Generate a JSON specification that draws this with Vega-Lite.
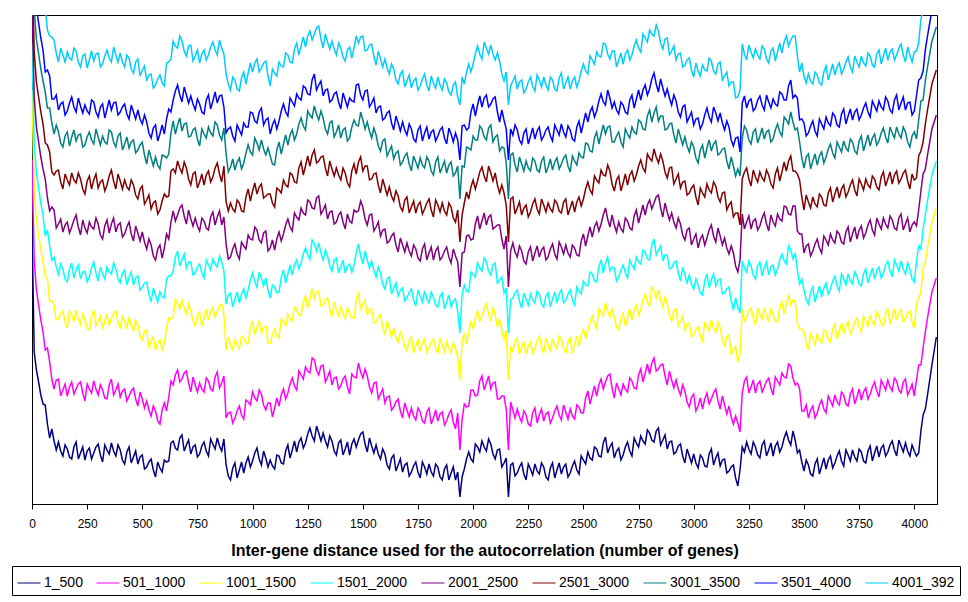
{
"$schema": "https://vega.github.io/schema/vega-lite/v6.json",
"width": 905, "height": 489,
"autosize": {"type": "none"},
"padding": {"left": 32, "top": 15, "right": 31, "bottom": 98},
"background": "white",
"config": {"view": {"stroke": "black", "strokeWidth": 1}, "font": "Liberation Sans"},
"data": {"values": [
{"x":0,"a":227,"b":160,"c":90,"d":43,"e":-3,"f":-48,"g":-91,"h":-122,"i":-172},
{"x":20,"a":370,"b":290,"c":220,"d":173,"e":127,"f":82,"g":39,"h":8,"i":-42},
{"x":40,"a":395,"b":320,"c":250,"d":203,"e":157,"f":112,"g":69,"h":38,"i":-12},
{"x":60,"a":405,"b":350,"c":276,"d":236,"e":179,"f":143,"g":92,"h":72,"i":8},
{"x":80,"a":438,"b":362,"c":301,"d":246,"e":211,"f":152,"g":108,"h":76,"i":36},
{"x":100,"a":441,"b":389,"c":305,"d":257,"e":210,"f":175,"g":134,"h":99,"i":40},
{"x":120,"a":442,"b":379,"c":319,"d":274,"e":224,"f":170,"g":132,"h":110,"i":62},
{"x":140,"a":456,"b":390,"c":311,"d":269,"e":232,"f":189,"g":147,"h":102,"i":55},
{"x":160,"a":449,"b":396,"c":328,"d":282,"e":222,"f":180,"g":132,"h":111,"i":52},
{"x":180,"a":459,"b":382,"c":315,"d":263,"e":227,"f":173,"g":137,"h":97,"i":60},
{"x":200,"a":442,"b":389,"c":310,"d":270,"e":215,"f":183,"g":141,"h":112,"i":51},
{"x":220,"a":453,"b":382,"c":325,"d":279,"e":235,"f":179,"g":134,"h":106,"i":67},
{"x":240,"a":460,"b":401,"c":320,"d":271,"e":228,"f":194,"g":145,"h":105,"i":54},
{"x":260,"a":448,"b":389,"c":330,"d":277,"e":222,"f":176,"g":132,"h":114,"i":60},
{"x":280,"a":453,"b":381,"c":310,"d":262,"e":229,"f":180,"g":144,"h":102,"i":61},
{"x":300,"a":444,"b":395,"c":321,"d":281,"e":224,"f":188,"g":137,"h":117,"i":53},
{"x":320,"a":462,"b":390,"c":329,"d":274,"e":239,"f":180,"g":136,"h":104,"i":64},
{"x":340,"a":450,"b":399,"c":315,"d":267,"e":220,"f":185,"g":144,"h":109,"i":50},
{"x":360,"a":443,"b":379,"c":319,"d":274,"e":224,"f":170,"g":132,"h":110,"i":62},
{"x":380,"a":456,"b":390,"c":311,"d":269,"e":232,"f":189,"g":147,"h":102,"i":55},
{"x":400,"a":450,"b":397,"c":329,"d":283,"e":223,"f":181,"g":133,"h":112,"i":53},
{"x":420,"a":464,"b":389,"c":322,"d":270,"e":234,"f":180,"g":144,"h":104,"i":67},
{"x":440,"a":447,"b":396,"c":317,"d":277,"e":222,"f":190,"g":148,"h":119,"i":58},
{"x":460,"a":457,"b":388,"c":331,"d":285,"e":241,"f":185,"g":140,"h":112,"i":73},
{"x":480,"a":464,"b":406,"c":325,"d":276,"e":233,"f":199,"g":150,"h":110,"i":59},
{"x":500,"a":455,"b":399,"c":340,"d":287,"e":232,"f":186,"g":142,"h":124,"i":70},
{"x":520,"a":467,"b":401,"c":330,"d":282,"e":249,"f":200,"g":164,"h":122,"i":81},
{"x":540,"a":459,"b":416,"c":342,"d":302,"e":245,"f":209,"g":158,"h":138,"i":74},
{"x":560,"a":477,"b":411,"c":350,"d":295,"e":260,"f":201,"g":157,"h":125,"i":85},
{"x":580,"a":468,"b":424,"c":340,"d":292,"e":245,"f":210,"g":169,"h":134,"i":75},
{"x":600,"a":460,"b":403,"c":343,"d":298,"e":248,"f":194,"g":156,"h":134,"i":86},
{"x":620,"a":461,"b":397,"c":318,"d":276,"e":239,"f":196,"g":154,"h":109,"i":62},
{"x":640,"a":441,"b":385,"c":317,"d":271,"e":211,"f":169,"g":121,"h":100,"i":41},
{"x":660,"a":450,"b":370,"c":303,"d":251,"e":215,"f":161,"g":125,"h":85,"i":48},
{"x":680,"a":435,"b":379,"c":300,"d":260,"e":205,"f":173,"g":131,"h":102,"i":41},
{"x":700,"a":445,"b":371,"c":314,"d":268,"e":224,"f":168,"g":123,"h":95,"i":56},
{"x":720,"a":454,"b":392,"c":311,"d":262,"e":219,"f":185,"g":136,"h":96,"i":45},
{"x":740,"a":445,"b":385,"c":326,"d":273,"e":218,"f":172,"g":128,"h":110,"i":56},
{"x":760,"a":454,"b":383,"c":312,"d":264,"e":231,"f":182,"g":146,"h":104,"i":63},
{"x":780,"a":442,"b":392,"c":318,"d":278,"e":221,"f":185,"g":134,"h":114,"i":50},
{"x":800,"a":456,"b":381,"c":320,"d":265,"e":230,"f":171,"g":127,"h":95,"i":55},
{"x":820,"a":444,"b":391,"c":307,"d":259,"e":212,"f":177,"g":136,"h":101,"i":42},
{"x":840,"a":438,"b":372,"c":312,"d":267,"e":217,"f":163,"g":125,"h":103,"i":55},
{"x":860,"a":451,"b":383,"c":304,"d":262,"e":225,"f":182,"g":140,"h":95,"i":48},
{"x":880,"a":465,"b":418,"c":350,"d":304,"e":244,"f":202,"g":154,"h":133,"i":74},
{"x":900,"a":480,"b":412,"c":345,"d":293,"e":257,"f":203,"g":167,"h":127,"i":90},
{"x":920,"a":463,"b":418,"c":339,"d":299,"e":244,"f":212,"g":170,"h":141,"i":80},
{"x":940,"a":470,"b":406,"c":349,"d":303,"e":259,"f":203,"g":158,"h":130,"i":91},
{"x":960,"a":473,"b":419,"c":338,"d":289,"e":246,"f":212,"g":163,"h":123,"i":72},
{"x":980,"a":457,"b":402,"c":343,"d":290,"e":235,"f":189,"g":145,"h":127,"i":73},
{"x":1000,"a":461,"b":392,"c":321,"d":273,"e":240,"f":191,"g":155,"h":113,"i":72},
{"x":1020,"a":448,"b":401,"c":327,"d":287,"e":230,"f":194,"g":143,"h":123,"i":59},
{"x":1040,"a":465,"b":394,"c":333,"d":278,"e":243,"f":184,"g":140,"h":108,"i":68},
{"x":1060,"a":458,"b":410,"c":326,"d":278,"e":231,"f":196,"g":155,"h":120,"i":61},
{"x":1080,"a":460,"b":403,"c":343,"d":298,"e":248,"f":194,"g":156,"h":134,"i":86},
{"x":1100,"a":469,"b":408,"c":329,"d":287,"e":250,"f":207,"g":165,"h":120,"i":73},
{"x":1120,"a":456,"b":406,"c":338,"d":292,"e":232,"f":190,"g":142,"h":121,"i":62},
{"x":1140,"a":464,"b":389,"c":322,"d":270,"e":234,"f":180,"g":144,"h":104,"i":67},
{"x":1160,"a":445,"b":393,"c":314,"d":274,"e":219,"f":187,"g":145,"h":116,"i":55},
{"x":1180,"a":450,"b":378,"c":321,"d":275,"e":231,"f":175,"g":130,"h":102,"i":63},
{"x":1200,"a":452,"b":390,"c":309,"d":260,"e":217,"f":183,"g":134,"h":94,"i":43},
{"x":1220,"a":438,"b":375,"c":316,"d":263,"e":208,"f":162,"g":118,"h":100,"i":46},
{"x":1240,"a":443,"b":367,"c":296,"d":248,"e":215,"f":166,"g":130,"h":88,"i":47},
{"x":1260,"a":428,"b":373,"c":299,"d":259,"e":202,"f":166,"g":115,"h":95,"i":31},
{"x":1280,"a":441,"b":360,"c":299,"d":244,"e":209,"f":150,"g":106,"h":74,"i":34},
{"x":1300,"a":433,"b":375,"c":291,"d":243,"e":196,"f":161,"g":120,"h":85,"i":26},
{"x":1320,"a":433,"b":365,"c":305,"d":260,"e":210,"f":156,"g":118,"h":96,"i":48},
{"x":1340,"a":447,"b":377,"c":298,"d":256,"e":219,"f":176,"g":134,"h":89,"i":42},
{"x":1360,"a":441,"b":385,"c":317,"d":271,"e":211,"f":169,"g":121,"h":100,"i":41},
{"x":1380,"a":455,"b":377,"c":310,"d":258,"e":222,"f":168,"g":132,"h":92,"i":55},
{"x":1400,"a":440,"b":386,"c":307,"d":267,"e":212,"f":180,"g":138,"h":109,"i":48},
{"x":1420,"a":449,"b":376,"c":319,"d":273,"e":229,"f":173,"g":128,"h":100,"i":61},
{"x":1440,"a":455,"b":394,"c":313,"d":264,"e":221,"f":187,"g":138,"h":98,"i":47},
{"x":1460,"a":439,"b":377,"c":318,"d":265,"e":210,"f":164,"g":120,"h":102,"i":48},
{"x":1480,"a":440,"b":363,"c":292,"d":244,"e":211,"f":162,"g":126,"h":84,"i":43},
{"x":1500,"a":432,"b":378,"c":304,"d":264,"e":207,"f":171,"g":120,"h":100,"i":36},
{"x":1520,"a":452,"b":376,"c":315,"d":260,"e":225,"f":166,"g":122,"h":90,"i":50},
{"x":1540,"a":446,"b":393,"c":309,"d":261,"e":214,"f":179,"g":138,"h":103,"i":44},
{"x":1560,"a":445,"b":382,"c":322,"d":277,"e":227,"f":173,"g":135,"h":113,"i":65},
{"x":1580,"a":459,"b":394,"c":315,"d":273,"e":236,"f":193,"g":151,"h":106,"i":59},
{"x":1600,"a":454,"b":403,"c":335,"d":289,"e":229,"f":187,"g":139,"h":118,"i":59},
{"x":1620,"a":469,"b":396,"c":329,"d":277,"e":241,"f":187,"g":151,"h":111,"i":74},
{"x":1640,"a":455,"b":407,"c":328,"d":288,"e":233,"f":201,"g":159,"h":130,"i":69},
{"x":1660,"a":465,"b":399,"c":342,"d":296,"e":252,"f":196,"g":151,"h":123,"i":84},
{"x":1680,"a":472,"b":418,"c":337,"d":288,"e":245,"f":211,"g":162,"h":122,"i":71},
{"x":1700,"a":463,"b":410,"c":351,"d":298,"e":243,"f":197,"g":153,"h":135,"i":81},
{"x":1720,"a":472,"b":408,"c":337,"d":289,"e":256,"f":207,"g":171,"h":129,"i":88},
{"x":1740,"a":462,"b":420,"c":346,"d":306,"e":249,"f":213,"g":162,"h":142,"i":78},
{"x":1760,"a":478,"b":412,"c":351,"d":296,"e":261,"f":202,"g":158,"h":126,"i":86},
{"x":1780,"a":467,"b":423,"c":339,"d":291,"e":244,"f":209,"g":168,"h":133,"i":74},
{"x":1800,"a":464,"b":408,"c":348,"d":303,"e":253,"f":199,"g":161,"h":139,"i":91},
{"x":1820,"a":476,"b":418,"c":339,"d":297,"e":260,"f":217,"g":175,"h":130,"i":83},
{"x":1840,"a":467,"b":421,"c":353,"d":307,"e":247,"f":205,"g":157,"h":136,"i":77},
{"x":1860,"a":480,"b":412,"c":345,"d":293,"e":257,"f":203,"g":167,"h":127,"i":90},
{"x":1880,"a":465,"b":421,"c":342,"d":302,"e":247,"f":215,"g":173,"h":144,"i":83},
{"x":1900,"a":473,"b":410,"c":353,"d":307,"e":263,"f":207,"g":162,"h":134,"i":95},
{"x":1920,"a":480,"b":429,"c":348,"d":299,"e":256,"f":222,"g":173,"h":133,"i":82},
{"x":1940,"a":497,"b":450,"c":380,"d":333,"e":287,"f":242,"g":199,"h":160,"i":105},
{"x":1960,"a":469,"b":404,"c":333,"d":285,"e":252,"f":203,"g":167,"h":125,"i":84},
{"x":1980,"a":452,"b":406,"c":332,"d":292,"e":235,"f":199,"g":148,"h":128,"i":64},
{"x":2000,"a":462,"b":390,"c":329,"d":274,"e":239,"f":180,"g":136,"h":104,"i":64},
{"x":2020,"a":447,"b":395,"c":311,"d":263,"e":216,"f":181,"g":140,"h":105,"i":46},
{"x":2040,"a":441,"b":376,"c":316,"d":271,"e":221,"f":167,"g":129,"h":107,"i":59},
{"x":2060,"a":451,"b":383,"c":304,"d":262,"e":225,"f":182,"g":140,"h":95,"i":48},
{"x":2080,"a":444,"b":389,"c":321,"d":275,"e":215,"f":173,"g":125,"h":104,"i":45},
{"x":2100,"a":459,"b":382,"c":315,"d":263,"e":227,"f":173,"g":137,"h":97,"i":60},
{"x":2120,"a":449,"b":399,"c":320,"d":280,"e":225,"f":193,"g":151,"h":122,"i":61},
{"x":2140,"a":463,"b":396,"c":339,"d":293,"e":249,"f":193,"g":148,"h":120,"i":81},
{"x":2160,"a":497,"b":450,"c":380,"d":333,"e":287,"f":242,"g":199,"h":160,"i":105},
{"x":2180,"a":463,"b":410,"c":351,"d":298,"e":243,"f":197,"g":153,"h":135,"i":81},
{"x":2200,"a":473,"b":409,"c":338,"d":290,"e":257,"f":208,"g":172,"h":130,"i":89},
{"x":2220,"a":463,"b":422,"c":348,"d":308,"e":251,"f":215,"g":164,"h":144,"i":80},
{"x":2240,"a":480,"b":415,"c":354,"d":299,"e":264,"f":205,"g":161,"h":129,"i":89},
{"x":2260,"a":469,"b":426,"c":342,"d":294,"e":247,"f":212,"g":171,"h":136,"i":77},
{"x":2280,"a":464,"b":408,"c":348,"d":303,"e":253,"f":199,"g":161,"h":139,"i":91},
{"x":2300,"a":474,"b":415,"c":336,"d":294,"e":257,"f":214,"g":172,"h":127,"i":80},
{"x":2320,"a":467,"b":421,"c":353,"d":307,"e":247,"f":205,"g":157,"h":136,"i":77},
{"x":2340,"a":480,"b":412,"c":345,"d":293,"e":257,"f":203,"g":167,"h":127,"i":90},
{"x":2360,"a":463,"b":418,"c":339,"d":299,"e":244,"f":212,"g":170,"h":141,"i":80},
{"x":2380,"a":470,"b":406,"c":349,"d":303,"e":259,"f":203,"g":158,"h":130,"i":91},
{"x":2400,"a":474,"b":420,"c":339,"d":290,"e":247,"f":213,"g":164,"h":124,"i":73},
{"x":2420,"a":464,"b":412,"c":353,"d":300,"e":245,"f":199,"g":155,"h":137,"i":83},
{"x":2440,"a":473,"b":409,"c":338,"d":290,"e":257,"f":208,"g":172,"h":130,"i":89},
{"x":2460,"a":461,"b":419,"c":345,"d":305,"e":248,"f":212,"g":161,"h":141,"i":77},
{"x":2480,"a":474,"b":407,"c":346,"d":291,"e":256,"f":197,"g":153,"h":121,"i":81},
{"x":2500,"a":460,"b":413,"c":329,"d":281,"e":234,"f":199,"g":158,"h":123,"i":64},
{"x":2520,"a":452,"b":391,"c":331,"d":286,"e":236,"f":182,"g":144,"h":122,"i":74},
{"x":2540,"a":460,"b":395,"c":316,"d":274,"e":237,"f":194,"g":152,"h":107,"i":60},
{"x":2560,"a":449,"b":396,"c":328,"d":282,"e":222,"f":180,"g":132,"h":111,"i":52},
{"x":2580,"a":457,"b":379,"c":312,"d":260,"e":224,"f":170,"g":134,"h":94,"i":57},
{"x":2600,"a":437,"b":382,"c":303,"d":263,"e":208,"f":176,"g":134,"h":105,"i":44},
{"x":2620,"a":447,"b":374,"c":317,"d":271,"e":227,"f":171,"g":126,"h":98,"i":59},
{"x":2640,"a":458,"b":398,"c":317,"d":268,"e":225,"f":191,"g":142,"h":102,"i":51},
{"x":2660,"a":448,"b":389,"c":330,"d":277,"e":222,"f":176,"g":132,"h":114,"i":60},
{"x":2680,"a":455,"b":384,"c":313,"d":265,"e":232,"f":183,"g":147,"h":105,"i":64},
{"x":2700,"a":442,"b":392,"c":318,"d":278,"e":221,"f":185,"g":134,"h":114,"i":50},
{"x":2720,"a":456,"b":381,"c":320,"d":265,"e":230,"f":171,"g":127,"h":95,"i":55},
{"x":2740,"a":443,"b":389,"c":305,"d":257,"e":210,"f":175,"g":134,"h":99,"i":40},
{"x":2760,"a":436,"b":369,"c":309,"d":264,"e":214,"f":160,"g":122,"h":100,"i":52},
{"x":2780,"a":444,"b":373,"c":294,"d":252,"e":215,"f":172,"g":130,"h":85,"i":38},
{"x":2800,"a":433,"b":374,"c":306,"d":260,"e":200,"f":158,"g":110,"h":89,"i":30},
{"x":2820,"a":442,"b":358,"c":291,"d":239,"e":203,"f":149,"g":113,"h":73,"i":36},
{"x":2840,"a":428,"b":369,"c":290,"d":250,"e":195,"f":163,"g":121,"h":92,"i":31},
{"x":2860,"a":440,"b":364,"c":307,"d":261,"e":217,"f":161,"g":116,"h":88,"i":49},
{"x":2880,"a":449,"b":385,"c":304,"d":255,"e":212,"f":178,"g":129,"h":89,"i":38},
{"x":2900,"a":441,"b":380,"c":321,"d":268,"e":213,"f":167,"g":123,"h":105,"i":51},
{"x":2920,"a":452,"b":380,"c":309,"d":261,"e":228,"f":179,"g":143,"h":101,"i":60},
{"x":2940,"a":444,"b":395,"c":321,"d":281,"e":224,"f":188,"g":137,"h":117,"i":53},
{"x":2960,"a":463,"b":391,"c":330,"d":275,"e":240,"f":181,"g":137,"h":105,"i":65},
{"x":2980,"a":456,"b":407,"c":323,"d":275,"e":228,"f":193,"g":152,"h":117,"i":58},
{"x":3000,"a":454,"b":394,"c":334,"d":289,"e":239,"f":185,"g":147,"h":125,"i":77},
{"x":3020,"a":468,"b":406,"c":327,"d":285,"e":248,"f":205,"g":163,"h":118,"i":71},
{"x":3040,"a":458,"b":409,"c":341,"d":295,"e":235,"f":193,"g":145,"h":124,"i":65},
{"x":3060,"a":467,"b":393,"c":326,"d":274,"e":238,"f":184,"g":148,"h":108,"i":71},
{"x":3080,"a":449,"b":399,"c":320,"d":280,"e":225,"f":193,"g":151,"h":122,"i":61},
{"x":3100,"a":458,"b":389,"c":332,"d":286,"e":242,"f":186,"g":141,"h":113,"i":74},
{"x":3120,"a":466,"b":409,"c":328,"d":279,"e":236,"f":202,"g":153,"h":113,"i":62},
{"x":3140,"a":459,"b":405,"c":346,"d":293,"e":238,"f":192,"g":148,"h":130,"i":76},
{"x":3160,"a":471,"b":406,"c":335,"d":287,"e":254,"f":205,"g":169,"h":127,"i":86},
{"x":3180,"a":465,"b":424,"c":350,"d":310,"e":253,"f":217,"g":166,"h":146,"i":82},
{"x":3200,"a":486,"b":423,"c":362,"d":307,"e":272,"f":213,"g":169,"h":137,"i":97},
{"x":3220,"a":447,"b":393,"c":309,"d":261,"e":214,"f":179,"g":138,"h":103,"i":44},
{"x":3240,"a":442,"b":377,"c":317,"d":272,"e":222,"f":168,"g":130,"h":108,"i":60},
{"x":3260,"a":454,"b":387,"c":308,"d":266,"e":229,"f":186,"g":144,"h":99,"i":52},
{"x":3280,"a":447,"b":393,"c":325,"d":279,"e":219,"f":177,"g":129,"h":108,"i":49},
{"x":3300,"a":458,"b":381,"c":314,"d":262,"e":226,"f":172,"g":136,"h":96,"i":59},
{"x":3320,"a":441,"b":387,"c":308,"d":268,"e":213,"f":181,"g":139,"h":110,"i":49},
{"x":3340,"a":450,"b":378,"c":321,"d":275,"e":231,"f":175,"g":130,"h":102,"i":63},
{"x":3360,"a":456,"b":395,"c":314,"d":265,"e":222,"f":188,"g":139,"h":99,"i":48},
{"x":3380,"a":442,"b":381,"c":322,"d":269,"e":214,"f":168,"g":124,"h":106,"i":52},
{"x":3400,"a":447,"b":373,"c":302,"d":254,"e":221,"f":172,"g":136,"h":94,"i":53},
{"x":3420,"a":432,"b":378,"c":304,"d":264,"e":207,"f":171,"g":120,"h":100,"i":36},
{"x":3440,"a":445,"b":366,"c":305,"d":250,"e":215,"f":156,"g":112,"h":80,"i":40},
{"x":3460,"a":440,"b":385,"c":301,"d":253,"e":206,"f":171,"g":130,"h":95,"i":36},
{"x":3480,"a":450,"b":389,"c":329,"d":284,"e":234,"f":180,"g":142,"h":120,"i":72},
{"x":3500,"a":471,"b":411,"c":332,"d":290,"e":253,"f":210,"g":168,"h":123,"i":76},
{"x":3520,"a":465,"b":418,"c":350,"d":304,"e":244,"f":202,"g":154,"h":133,"i":74},
{"x":3540,"a":476,"b":406,"c":339,"d":287,"e":251,"f":197,"g":161,"h":121,"i":84},
{"x":3560,"a":459,"b":413,"c":334,"d":294,"e":239,"f":207,"g":165,"h":136,"i":75},
{"x":3580,"a":466,"b":400,"c":343,"d":297,"e":253,"f":197,"g":152,"h":124,"i":85},
{"x":3600,"a":469,"b":413,"c":332,"d":283,"e":240,"f":206,"g":157,"h":117,"i":66},
{"x":3620,"a":456,"b":401,"c":342,"d":289,"e":234,"f":188,"g":144,"h":126,"i":72},
{"x":3640,"a":463,"b":395,"c":324,"d":276,"e":243,"f":194,"g":158,"h":116,"i":75},
{"x":3660,"a":451,"b":405,"c":331,"d":291,"e":234,"f":198,"g":147,"h":127,"i":63},
{"x":3680,"a":466,"b":395,"c":334,"d":279,"e":244,"f":185,"g":141,"h":109,"i":69},
{"x":3700,"a":455,"b":406,"c":322,"d":274,"e":227,"f":192,"g":151,"h":116,"i":57},
{"x":3720,"a":450,"b":389,"c":329,"d":284,"e":234,"f":180,"g":142,"h":120,"i":72},
{"x":3740,"a":461,"b":397,"c":318,"d":276,"e":239,"f":196,"g":154,"h":109,"i":62},
{"x":3760,"a":452,"b":400,"c":332,"d":286,"e":226,"f":184,"g":136,"h":115,"i":56},
{"x":3780,"a":463,"b":388,"c":321,"d":269,"e":233,"f":179,"g":143,"h":103,"i":66},
{"x":3800,"a":446,"b":394,"c":315,"d":275,"e":220,"f":188,"g":146,"h":117,"i":56},
{"x":3820,"a":453,"b":382,"c":325,"d":279,"e":235,"f":179,"g":134,"h":106,"i":67},
{"x":3840,"a":457,"b":397,"c":316,"d":267,"e":224,"f":190,"g":141,"h":101,"i":50},
{"x":3860,"a":445,"b":385,"c":326,"d":273,"e":218,"f":172,"g":128,"h":110,"i":56},
{"x":3880,"a":452,"b":380,"c":309,"d":261,"e":228,"f":179,"g":143,"h":101,"i":60},
{"x":3900,"a":441,"b":391,"c":317,"d":277,"e":220,"f":184,"g":133,"h":113,"i":49},
{"x":3920,"a":456,"b":381,"c":320,"d":265,"e":230,"f":171,"g":127,"h":95,"i":55},
{"x":3940,"a":446,"b":393,"c":309,"d":261,"e":214,"f":179,"g":138,"h":103,"i":44},
{"x":3960,"a":443,"b":379,"c":319,"d":274,"e":224,"f":170,"g":132,"h":110,"i":62},
{"x":3980,"a":456,"b":390,"c":311,"d":269,"e":232,"f":189,"g":147,"h":102,"i":55},
{"x":4000,"a":451,"b":396,"c":328,"d":282,"e":222,"f":180,"g":132,"h":111,"i":52},
{"x":4020,"a":453,"b":365,"c":298,"d":246,"e":210,"f":156,"g":120,"h":80,"i":43},
{"x":4040,"a":415,"b":348,"c":269,"d":229,"e":174,"f":142,"g":100,"h":71,"i":10},
{"x":4060,"a":395,"b":318,"c":248,"d":201,"e":155,"f":110,"g":67,"h":36,"i":-14},
{"x":4080,"a":365,"b":292,"c":222,"d":175,"e":129,"f":84,"g":41,"h":10,"i":-40},
{"x":4100,"a":337,"b":278,"c":208,"d":161,"e":115,"f":70,"g":27,"h":-4,"i":-54},
{"x":10,"a":352,"b":260,"c":190,"d":143,"e":97,"f":52,"g":9,"h":-22,"i":-72},
{"x":30,"a":382,"b":305,"c":235,"d":188,"e":142,"f":97,"g":54,"h":23,"i":-27},
{"x":50,"a":404,"b":332,"c":262,"d":215,"e":169,"f":124,"g":81,"h":50,"i":0},
{"x":70,"a":424,"b":348,"c":279,"d":230,"e":198,"f":145,"g":108,"h":70,"i":30},
{"x":90,"a":429,"b":379,"c":301,"d":260,"e":207,"f":172,"g":123,"h":99,"i":37},
{"x":110,"a":450,"b":380,"c":320,"d":267,"e":228,"f":171,"g":125,"h":95,"i":53},
{"x":130,"a":451,"b":396,"c":314,"d":264,"e":219,"f":182,"g":143,"h":104,"i":48},
{"x":150,"a":445,"b":384,"c":322,"d":279,"e":225,"f":174,"g":136,"h":115,"i":62},
{"x":170,"a":457,"b":387,"c":311,"d":269,"e":233,"f":185,"g":146,"h":103,"i":58},
{"x":190,"a":447,"b":394,"c":321,"d":278,"e":220,"f":180,"g":130,"h":107,"i":48},
{"x":210,"a":459,"b":384,"c":319,"d":265,"e":227,"f":173,"g":135,"h":98,"i":62},
{"x":230,"a":447,"b":393,"c":314,"d":272,"e":220,"f":189,"g":147,"h":113,"i":56},
{"x":250,"a":451,"b":384,"c":328,"d":282,"e":233,"f":181,"g":137,"h":111,"i":68},
{"x":270,"a":459,"b":393,"c":316,"d":268,"e":227,"f":189,"g":140,"h":100,"i":51},
{"x":290,"a":447,"b":389,"c":326,"d":273,"e":218,"f":174,"g":129,"h":112,"i":54},
{"x":310,"a":455,"b":385,"c":316,"d":267,"e":235,"f":182,"g":145,"h":107,"i":67},
{"x":330,"a":445,"b":398,"c":320,"d":279,"e":226,"f":191,"g":142,"h":118,"i":56},
{"x":350,"a":454,"b":385,"c":325,"d":272,"e":233,"f":176,"g":130,"h":100,"i":58},
{"x":370,"a":451,"b":395,"c":313,"d":263,"e":218,"f":181,"g":142,"h":103,"i":47},
{"x":390,"a":445,"b":384,"c":322,"d":279,"e":225,"f":174,"g":136,"h":115,"i":62},
{"x":410,"a":460,"b":391,"c":315,"d":273,"e":237,"f":189,"g":150,"h":107,"i":62},
{"x":430,"a":452,"b":401,"c":328,"d":285,"e":227,"f":187,"g":137,"h":114,"i":55},
{"x":450,"a":463,"b":391,"c":326,"d":272,"e":234,"f":180,"g":142,"h":105,"i":69},
{"x":470,"a":451,"b":399,"c":320,"d":278,"e":226,"f":195,"g":153,"h":119,"i":62},
{"x":490,"a":457,"b":392,"c":336,"d":290,"e":241,"f":189,"g":145,"h":119,"i":76},
{"x":510,"a":469,"b":408,"c":331,"d":283,"e":242,"f":204,"g":155,"h":115,"i":66},
{"x":530,"a":462,"b":410,"c":347,"d":294,"e":239,"f":195,"g":150,"h":133,"i":75},
{"x":550,"a":470,"b":406,"c":337,"d":288,"e":256,"f":203,"g":166,"h":128,"i":88},
{"x":570,"a":462,"b":421,"c":343,"d":302,"e":249,"f":214,"g":165,"h":141,"i":79},
{"x":590,"a":472,"b":410,"c":350,"d":297,"e":258,"f":201,"g":155,"h":125,"i":83},
{"x":610,"a":462,"b":411,"c":329,"d":279,"e":234,"f":197,"g":158,"h":119,"i":63},
{"x":630,"a":443,"b":381,"c":319,"d":276,"e":222,"f":171,"g":133,"h":112,"i":59},
{"x":650,"a":448,"b":375,"c":299,"d":257,"e":221,"f":173,"g":134,"h":91,"i":46},
{"x":670,"a":438,"b":382,"c":309,"d":266,"e":208,"f":168,"g":118,"h":95,"i":36},
{"x":690,"a":451,"b":373,"c":308,"d":254,"e":216,"f":162,"g":124,"h":87,"i":51},
{"x":710,"a":440,"b":383,"c":304,"d":262,"e":210,"f":179,"g":137,"h":103,"i":46},
{"x":730,"a":447,"b":377,"c":321,"d":275,"e":226,"f":174,"g":130,"h":104,"i":61},
{"x":750,"a":457,"b":392,"c":315,"d":267,"e":226,"f":188,"g":139,"h":99,"i":50},
{"x":770,"a":446,"b":389,"c":326,"d":273,"e":218,"f":174,"g":129,"h":112,"i":54},
{"x":790,"a":451,"b":378,"c":309,"d":260,"e":228,"f":175,"g":138,"h":100,"i":60},
{"x":810,"a":439,"b":389,"c":311,"d":270,"e":217,"f":182,"g":133,"h":109,"i":47},
{"x":830,"a":449,"b":377,"c":317,"d":264,"e":225,"f":168,"g":122,"h":92,"i":50},
{"x":850,"a":446,"b":388,"c":306,"d":256,"e":211,"f":174,"g":135,"h":96,"i":40},
{"x":870,"a":439,"b":376,"c":314,"d":271,"e":217,"f":166,"g":128,"h":107,"i":54},
{"x":890,"a":476,"b":413,"c":337,"d":295,"e":259,"f":211,"g":172,"h":129,"i":84},
{"x":910,"a":468,"b":423,"c":350,"d":307,"e":249,"f":209,"g":159,"h":136,"i":77},
{"x":930,"a":478,"b":411,"c":346,"d":292,"e":254,"f":200,"g":162,"h":125,"i":89},
{"x":950,"a":462,"b":415,"c":336,"d":294,"e":242,"f":211,"g":169,"h":135,"i":78},
{"x":970,"a":463,"b":400,"c":344,"d":298,"e":249,"f":197,"g":153,"h":127,"i":84},
{"x":990,"a":467,"b":405,"c":328,"d":280,"e":239,"f":201,"g":152,"h":112,"i":63},
{"x":1010,"a":453,"b":398,"c":335,"d":282,"e":227,"f":183,"g":138,"h":121,"i":63},
{"x":1030,"a":459,"b":390,"c":321,"d":272,"e":240,"f":187,"g":150,"h":112,"i":72},
{"x":1050,"a":451,"b":405,"c":327,"d":286,"e":233,"f":198,"g":149,"h":125,"i":63},
{"x":1070,"a":467,"b":403,"c":343,"d":290,"e":251,"f":194,"g":148,"h":118,"i":76},
{"x":1090,"a":466,"b":417,"c":335,"d":285,"e":240,"f":203,"g":164,"h":125,"i":69},
{"x":1110,"a":455,"b":398,"c":336,"d":293,"e":239,"f":188,"g":150,"h":129,"i":76},
{"x":1130,"a":463,"b":395,"c":319,"d":277,"e":241,"f":193,"g":154,"h":111,"i":66},
{"x":1150,"a":451,"b":399,"c":326,"d":283,"e":225,"f":185,"g":135,"h":112,"i":53},
{"x":1170,"a":458,"b":384,"c":319,"d":265,"e":227,"f":173,"g":135,"h":98,"i":62},
{"x":1190,"a":441,"b":386,"c":307,"d":265,"e":213,"f":182,"g":140,"h":106,"i":49},
{"x":1210,"a":442,"b":371,"c":315,"d":269,"e":220,"f":168,"g":124,"h":98,"i":55},
{"x":1230,"a":448,"b":379,"c":302,"d":254,"e":213,"f":175,"g":126,"h":86,"i":37},
{"x":1250,"a":434,"b":371,"c":308,"d":255,"e":200,"f":156,"g":111,"h":94,"i":36},
{"x":1270,"a":436,"b":358,"c":289,"d":240,"e":208,"f":155,"g":118,"h":80,"i":40},
{"x":1290,"a":426,"b":370,"c":292,"d":251,"e":198,"f":163,"g":114,"h":90,"i":28},
{"x":1310,"a":441,"b":366,"c":306,"d":253,"e":214,"f":157,"g":111,"h":81,"i":39},
{"x":1330,"a":441,"b":382,"c":300,"d":250,"e":205,"f":168,"g":129,"h":90,"i":34},
{"x":1350,"a":436,"b":371,"c":309,"d":266,"e":212,"f":161,"g":123,"h":102,"i":49},
{"x":1370,"a":451,"b":378,"c":302,"d":260,"e":224,"f":176,"g":137,"h":94,"i":49},
{"x":1390,"a":443,"b":389,"c":316,"d":273,"e":215,"f":175,"g":125,"h":102,"i":43},
{"x":1410,"a":455,"b":379,"c":314,"d":260,"e":222,"f":168,"g":130,"h":93,"i":57},
{"x":1430,"a":442,"b":387,"c":308,"d":266,"e":214,"f":183,"g":141,"h":107,"i":50},
{"x":1450,"a":444,"b":374,"c":318,"d":272,"e":223,"f":171,"g":127,"h":101,"i":58},
{"x":1470,"a":447,"b":378,"c":301,"d":253,"e":212,"f":174,"g":125,"h":85,"i":36},
{"x":1490,"a":434,"b":372,"c":309,"d":256,"e":201,"f":157,"g":112,"h":95,"i":37},
{"x":1510,"a":444,"b":369,"c":300,"d":251,"e":219,"f":166,"g":129,"h":91,"i":51},
{"x":1530,"a":438,"b":387,"c":309,"d":268,"e":215,"f":180,"g":131,"h":107,"i":45},
{"x":1550,"a":453,"b":383,"c":323,"d":270,"e":231,"f":174,"g":128,"h":98,"i":56},
{"x":1570,"a":454,"b":399,"c":317,"d":267,"e":222,"f":185,"g":146,"h":107,"i":51},
{"x":1590,"a":449,"b":389,"c":327,"d":284,"e":230,"f":179,"g":141,"h":120,"i":67},
{"x":1610,"a":465,"b":397,"c":321,"d":279,"e":243,"f":195,"g":156,"h":113,"i":68},
{"x":1630,"a":458,"b":410,"c":337,"d":294,"e":236,"f":196,"g":146,"h":123,"i":64},
{"x":1650,"a":471,"b":402,"c":337,"d":283,"e":245,"f":191,"g":153,"h":116,"i":80},
{"x":1670,"a":459,"b":411,"c":332,"d":290,"e":238,"f":207,"g":165,"h":131,"i":74},
{"x":1690,"a":465,"b":403,"c":347,"d":301,"e":252,"f":200,"g":156,"h":130,"i":87},
{"x":1710,"a":476,"b":417,"c":340,"d":292,"e":251,"f":213,"g":164,"h":124,"i":75},
{"x":1730,"a":466,"b":416,"c":353,"d":300,"e":245,"f":201,"g":156,"h":139,"i":81},
{"x":1750,"a":472,"b":408,"c":339,"d":290,"e":258,"f":205,"g":168,"h":130,"i":90},
{"x":1770,"a":462,"b":421,"c":343,"d":302,"e":249,"f":214,"g":165,"h":141,"i":79},
{"x":1790,"a":474,"b":412,"c":352,"d":299,"e":260,"f":203,"g":157,"h":127,"i":85},
{"x":1810,"a":472,"b":424,"c":342,"d":292,"e":247,"f":210,"g":171,"h":132,"i":76},
{"x":1830,"a":464,"b":410,"c":348,"d":305,"e":251,"f":200,"g":162,"h":141,"i":88},
{"x":1850,"a":477,"b":414,"c":338,"d":296,"e":260,"f":212,"g":173,"h":130,"i":85},
{"x":1870,"a":469,"b":425,"c":352,"d":309,"e":251,"f":211,"g":161,"h":138,"i":79},
{"x":1890,"a":480,"b":414,"c":349,"d":295,"e":257,"f":203,"g":165,"h":128,"i":92},
{"x":1910,"a":467,"b":422,"c":343,"d":301,"e":249,"f":218,"g":176,"h":142,"i":85},
{"x":1930,"a":472,"b":413,"c":357,"d":311,"e":262,"f":210,"g":166,"h":140,"i":97},
{"x":1950,"a":477,"b":419,"c":342,"d":294,"e":253,"f":215,"g":166,"h":126,"i":77},
{"x":1970,"a":459,"b":407,"c":344,"d":291,"e":236,"f":192,"g":147,"h":130,"i":72},
{"x":1990,"a":459,"b":390,"c":321,"d":272,"e":240,"f":187,"g":150,"h":112,"i":72},
{"x":2010,"a":444,"b":396,"c":318,"d":277,"e":224,"f":189,"g":140,"h":116,"i":54},
{"x":2030,"a":452,"b":381,"c":321,"d":268,"e":229,"f":172,"g":126,"h":96,"i":54},
{"x":2050,"a":447,"b":390,"c":308,"d":258,"e":213,"f":176,"g":137,"h":98,"i":42},
{"x":2070,"a":439,"b":376,"c":314,"d":271,"e":217,"f":166,"g":128,"h":107,"i":54},
{"x":2090,"a":454,"b":383,"c":307,"d":265,"e":229,"f":181,"g":142,"h":99,"i":54},
{"x":2110,"a":450,"b":399,"c":326,"d":283,"e":225,"f":185,"g":135,"h":112,"i":53},
{"x":2130,"a":467,"b":396,"c":331,"d":277,"e":239,"f":185,"g":147,"h":110,"i":74},
{"x":2150,"a":458,"b":409,"c":330,"d":288,"e":236,"f":205,"g":163,"h":129,"i":72},
{"x":2170,"a":465,"b":402,"c":346,"d":300,"e":251,"f":199,"g":155,"h":129,"i":86},
{"x":2190,"a":476,"b":418,"c":341,"d":293,"e":252,"f":214,"g":165,"h":125,"i":76},
{"x":2210,"a":467,"b":417,"c":354,"d":301,"e":246,"f":202,"g":157,"h":140,"i":82},
{"x":2230,"a":474,"b":411,"c":342,"d":293,"e":261,"f":208,"g":171,"h":133,"i":93},
{"x":2250,"a":464,"b":424,"c":346,"d":305,"e":252,"f":217,"g":168,"h":144,"i":82},
{"x":2270,"a":475,"b":413,"c":353,"d":300,"e":261,"f":204,"g":158,"h":128,"i":86},
{"x":2290,"a":471,"b":423,"c":341,"d":291,"e":246,"f":209,"g":170,"h":131,"i":75},
{"x":2310,"a":463,"b":409,"c":347,"d":304,"e":250,"f":199,"g":161,"h":140,"i":87},
{"x":2330,"a":477,"b":414,"c":338,"d":296,"e":260,"f":212,"g":173,"h":130,"i":85},
{"x":2350,"a":468,"b":423,"c":350,"d":307,"e":249,"f":209,"g":159,"h":136,"i":77},
{"x":2370,"a":478,"b":411,"c":346,"d":292,"e":254,"f":200,"g":162,"h":125,"i":89},
{"x":2390,"a":463,"b":415,"c":336,"d":294,"e":242,"f":211,"g":169,"h":135,"i":78},
{"x":2410,"a":467,"b":405,"c":349,"d":303,"e":254,"f":202,"g":158,"h":132,"i":89},
{"x":2430,"a":477,"b":419,"c":342,"d":294,"e":253,"f":215,"g":166,"h":126,"i":77},
{"x":2450,"a":466,"b":416,"c":353,"d":300,"e":245,"f":201,"g":156,"h":139,"i":81},
{"x":2470,"a":470,"b":405,"c":336,"d":287,"e":255,"f":202,"g":165,"h":127,"i":87},
{"x":2490,"a":456,"b":413,"c":335,"d":294,"e":241,"f":206,"g":157,"h":133,"i":71},
{"x":2510,"a":464,"b":398,"c":338,"d":285,"e":246,"f":189,"g":143,"h":113,"i":71},
{"x":2530,"a":458,"b":404,"c":322,"d":272,"e":227,"f":190,"g":151,"h":112,"i":56},
{"x":2550,"a":447,"b":386,"c":324,"d":281,"e":227,"f":176,"g":138,"h":117,"i":64},
{"x":2570,"a":456,"b":385,"c":309,"d":267,"e":231,"f":183,"g":144,"h":101,"i":56},
{"x":2590,"a":443,"b":389,"c":316,"d":273,"e":215,"f":175,"g":125,"h":102,"i":43},
{"x":2610,"a":453,"b":376,"c":311,"d":257,"e":219,"f":165,"g":127,"h":90,"i":54},
{"x":2630,"a":443,"b":388,"c":309,"d":267,"e":215,"f":184,"g":142,"h":108,"i":51},
{"x":2650,"a":451,"b":383,"c":327,"d":281,"e":232,"f":180,"g":136,"h":110,"i":67},
{"x":2670,"a":460,"b":395,"c":318,"d":270,"e":229,"f":191,"g":142,"h":102,"i":53},
{"x":2690,"a":447,"b":389,"c":326,"d":273,"e":218,"f":174,"g":129,"h":112,"i":54},
{"x":2710,"a":451,"b":378,"c":309,"d":260,"e":228,"f":175,"g":138,"h":100,"i":60},
{"x":2730,"a":438,"b":388,"c":310,"d":269,"e":216,"f":181,"g":132,"h":108,"i":46},
{"x":2750,"a":447,"b":375,"c":315,"d":262,"e":223,"f":166,"g":120,"h":90,"i":48},
{"x":2770,"a":441,"b":382,"c":300,"d":250,"e":205,"f":168,"g":129,"h":90,"i":34},
{"x":2790,"a":430,"b":364,"c":302,"d":259,"e":205,"f":154,"g":116,"h":95,"i":42},
{"x":2810,"a":440,"b":363,"c":287,"d":245,"e":209,"f":161,"g":122,"h":79,"i":34},
{"x":2830,"a":431,"b":371,"c":298,"d":255,"e":197,"f":157,"g":107,"h":84,"i":25},
{"x":2850,"a":445,"b":365,"c":300,"d":246,"e":208,"f":154,"g":116,"h":79,"i":43},
{"x":2870,"a":435,"b":376,"c":297,"d":255,"e":203,"f":172,"g":130,"h":96,"i":39},
{"x":2890,"a":442,"b":371,"c":315,"d":269,"e":220,"f":168,"g":124,"h":98,"i":55},
{"x":2910,"a":454,"b":388,"c":311,"d":263,"e":222,"f":184,"g":135,"h":95,"i":46},
{"x":2930,"a":446,"b":389,"c":326,"d":273,"e":218,"f":174,"g":129,"h":112,"i":54},
{"x":2950,"a":456,"b":385,"c":316,"d":267,"e":235,"f":182,"g":145,"h":107,"i":67},
{"x":2970,"a":449,"b":402,"c":324,"d":283,"e":230,"f":195,"g":146,"h":122,"i":60},
{"x":2990,"a":463,"b":397,"c":337,"d":284,"e":245,"f":188,"g":142,"h":112,"i":70},
{"x":3010,"a":463,"b":411,"c":329,"d":279,"e":234,"f":197,"g":158,"h":119,"i":63},
{"x":3030,"a":455,"b":398,"c":336,"d":293,"e":239,"f":188,"g":150,"h":129,"i":76},
{"x":3050,"a":466,"b":399,"c":323,"d":281,"e":245,"f":197,"g":158,"h":115,"i":70},
{"x":3070,"a":454,"b":404,"c":331,"d":288,"e":230,"f":190,"g":140,"h":117,"i":58},
{"x":3090,"a":465,"b":393,"c":328,"d":274,"e":236,"f":182,"g":144,"h":107,"i":71},
{"x":3110,"a":453,"b":401,"c":322,"d":280,"e":228,"f":197,"g":155,"h":121,"i":64},
{"x":3130,"a":460,"b":396,"c":340,"d":294,"e":245,"f":193,"g":149,"h":123,"i":80},
{"x":3150,"a":473,"b":414,"c":337,"d":289,"e":248,"f":210,"g":161,"h":121,"i":72},
{"x":3170,"a":467,"b":417,"c":354,"d":301,"e":246,"f":202,"g":157,"h":140,"i":82},
{"x":3190,"a":478,"b":416,"c":347,"d":298,"e":266,"f":213,"g":176,"h":138,"i":98},
{"x":3210,"a":470,"b":432,"c":354,"d":313,"e":260,"f":225,"g":176,"h":152,"i":90},
{"x":3230,"a":452,"b":381,"c":321,"d":268,"e":229,"f":172,"g":126,"h":96,"i":54},
{"x":3250,"a":449,"b":393,"c":311,"d":261,"e":216,"f":179,"g":140,"h":101,"i":45},
{"x":3270,"a":442,"b":380,"c":318,"d":275,"e":221,"f":170,"g":132,"h":111,"i":58},
{"x":3290,"a":455,"b":384,"c":308,"d":266,"e":230,"f":182,"g":143,"h":100,"i":55},
{"x":3310,"a":445,"b":392,"c":319,"d":276,"e":218,"f":178,"g":128,"h":105,"i":46},
{"x":3330,"a":456,"b":381,"c":316,"d":262,"e":224,"f":170,"g":132,"h":95,"i":59},
{"x":3350,"a":443,"b":388,"c":309,"d":267,"e":215,"f":184,"g":142,"h":108,"i":51},
{"x":3370,"a":446,"b":377,"c":321,"d":275,"e":226,"f":174,"g":130,"h":104,"i":61},
{"x":3390,"a":452,"b":385,"c":308,"d":260,"e":219,"f":181,"g":132,"h":92,"i":43},
{"x":3410,"a":438,"b":377,"c":314,"d":261,"e":206,"f":162,"g":117,"h":100,"i":42},
{"x":3430,"a":440,"b":364,"c":295,"d":246,"e":214,"f":161,"g":124,"h":86,"i":46},
{"x":3450,"a":431,"b":378,"c":300,"d":259,"e":206,"f":171,"g":122,"h":98,"i":36},
{"x":3470,"a":453,"b":383,"c":323,"d":270,"e":231,"f":174,"g":128,"h":98,"i":56},
{"x":3490,"a":462,"b":411,"c":329,"d":279,"e":234,"f":197,"g":158,"h":119,"i":63},
{"x":3510,"a":460,"b":405,"c":343,"d":300,"e":246,"f":195,"g":157,"h":136,"i":83},
{"x":3530,"a":474,"b":410,"c":334,"d":292,"e":256,"f":208,"g":169,"h":126,"i":81},
{"x":3550,"a":464,"b":418,"c":345,"d":302,"e":244,"f":204,"g":154,"h":131,"i":72},
{"x":3570,"a":474,"b":405,"c":340,"d":286,"e":248,"f":194,"g":156,"h":119,"i":83},
{"x":3590,"a":458,"b":409,"c":330,"d":288,"e":236,"f":205,"g":163,"h":129,"i":72},
{"x":3610,"a":460,"b":396,"c":340,"d":294,"e":245,"f":193,"g":149,"h":123,"i":80},
{"x":3630,"a":468,"b":406,"c":329,"d":281,"e":240,"f":202,"g":153,"h":113,"i":64},
{"x":3650,"a":456,"b":402,"c":339,"d":286,"e":231,"f":187,"g":142,"h":125,"i":67},
{"x":3670,"a":461,"b":392,"c":323,"d":274,"e":242,"f":189,"g":152,"h":114,"i":74},
{"x":3690,"a":450,"b":404,"c":326,"d":285,"e":232,"f":197,"g":148,"h":124,"i":62},
{"x":3710,"a":461,"b":394,"c":334,"d":281,"e":242,"f":185,"g":139,"h":109,"i":67},
{"x":3730,"a":457,"b":404,"c":322,"d":272,"e":227,"f":190,"g":151,"h":112,"i":56},
{"x":3750,"a":449,"b":389,"c":327,"d":284,"e":230,"f":179,"g":141,"h":120,"i":67},
{"x":3770,"a":461,"b":392,"c":316,"d":274,"e":238,"f":190,"g":151,"h":108,"i":63},
{"x":3790,"a":451,"b":399,"c":326,"d":283,"e":225,"f":185,"g":135,"h":112,"i":53},
{"x":3810,"a":461,"b":387,"c":322,"d":268,"e":230,"f":176,"g":138,"h":101,"i":65},
{"x":3830,"a":446,"b":391,"c":312,"d":270,"e":218,"f":187,"g":145,"h":111,"i":54},
{"x":3850,"a":448,"b":380,"c":324,"d":278,"e":229,"f":177,"g":133,"h":107,"i":64},
{"x":3870,"a":456,"b":390,"c":313,"d":265,"e":224,"f":186,"g":137,"h":97,"i":48},
{"x":3890,"a":445,"b":387,"c":324,"d":271,"e":216,"f":172,"g":127,"h":110,"i":52},
{"x":3910,"a":450,"b":378,"c":309,"d":260,"e":228,"f":175,"g":138,"h":100,"i":60},
{"x":3930,"a":440,"b":390,"c":312,"d":271,"e":218,"f":183,"g":134,"h":110,"i":48},
{"x":3950,"a":452,"b":382,"c":322,"d":269,"e":230,"f":173,"g":127,"h":97,"i":55},
{"x":3970,"a":451,"b":395,"c":313,"d":263,"e":218,"f":181,"g":142,"h":103,"i":47},
{"x":3990,"a":445,"b":384,"c":322,"d":279,"e":225,"f":174,"g":136,"h":115,"i":62},
{"x":4010,"a":456,"b":380,"c":304,"d":262,"e":226,"f":178,"g":139,"h":96,"i":51},
{"x":4030,"a":431,"b":365,"c":292,"d":249,"e":191,"f":151,"g":101,"h":78,"i":19},
{"x":4050,"a":409,"b":332,"c":262,"d":215,"e":169,"f":124,"g":81,"h":50,"i":0},
{"x":4070,"a":380,"b":305,"c":235,"d":188,"e":142,"f":97,"g":54,"h":23,"i":-27},
{"x":4090,"a":351,"b":285,"c":215,"d":168,"e":122,"f":77,"g":34,"h":3,"i":-47}
]},
"transform": [{"fold": ["a","b","c","d","e","f","g","h","i"], "as": ["series","value"]}],
"mark": {"type": "line", "strokeWidth": 1.5, "clip": true, "interpolate": "linear"},
"encoding": {
  "x": {"field": "x", "type": "quantitative",
    "scale": {"domain": [0, 4103], "nice": false, "zero": false},
    "axis": {"values": [0,250,500,750,1000,1250,1500,1750,2000,2250,2500,2750,3000,3250,3500,3750,4000],
      "format": "d",
      "title": "Inter-gene distance used for the autocorrelation (number of genes)",
      "grid": false, "domainColor": "black", "tickColor": "black", "tickSize": 5,
      "labelFont": "Liberation Sans", "labelFontSize": 12, "labelColor": "black", "labelPadding": 9,
      "labelFlush": false, "labelOverlap": false,
      "titleFont": "Liberation Sans", "titleFontSize": 16, "titleFontWeight": "bold", "titleColor": "black",
      "titleBaseline": "alphabetic", "titleY": 51}},
  "y": {"field": "value", "type": "quantitative",
    "scale": {"domain": [15, 504], "reverse": true, "nice": false, "zero": false},
    "axis": null},
  "order": {"field": "x", "type": "quantitative"},
  "color": {"field": "series", "type": "nominal",
    "scale": {"domain": ["a","b","c","d","e","f","g","h","i"],
      "range": ["#000080","#FF00FF","#FFFF00","#00FFFF","#800080","#800000","#008080","#0000FF","#00CCFF"]},
    "legend": {"orient": "none", "legendX": -20, "legendY": 551, "direction": "horizontal", "columns": 9,
      "title": null, "symbolType": "stroke", "symbolSize": 529, "symbolStrokeWidth": 1,
      "labelFont": "Liberation Sans", "labelFontSize": 14, "labelColor": "black", "labelOffset": 3,
      "columnPadding": 11, "padding": 5, "strokeColor": "black", "fillColor": "white", "cornerRadius": 0,
      "labelExpr": "{'a':'1_500','b':'501_1000','c':'1001_1500','d':'1501_2000','e':'2001_2500','f':'2501_3000','g':'3001_3500','h':'3501_4000','i':'4001_392'}[datum.label]"}}
}
}
